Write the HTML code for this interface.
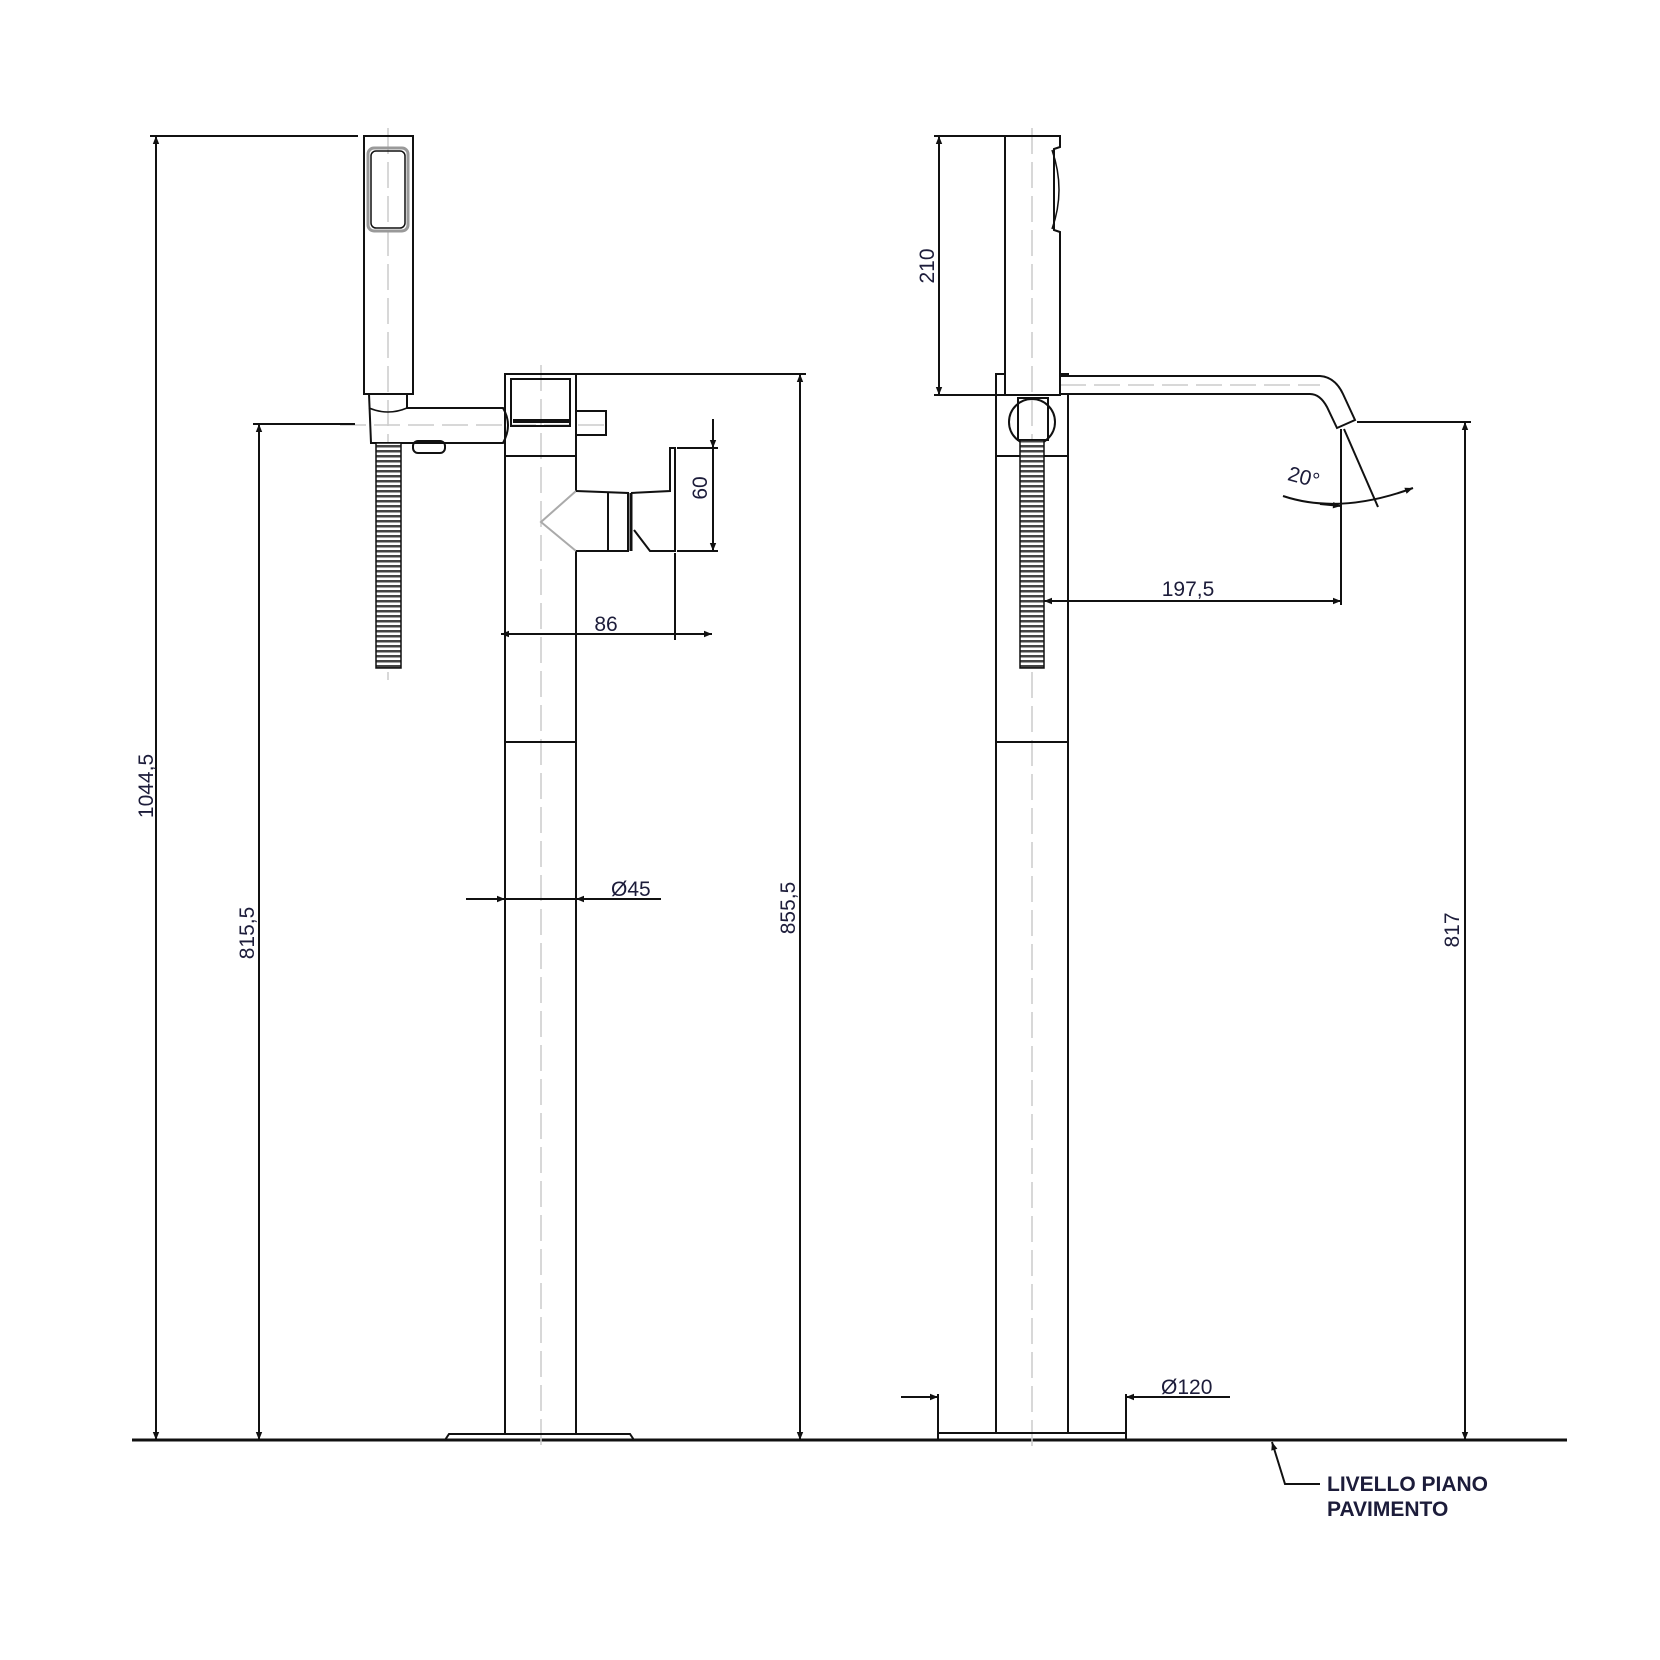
<!DOCTYPE html>
<html><head><meta charset="utf-8"><style>
html,body{margin:0;padding:0;background:#fff;}
svg{display:block;}
text{font-family:"Liberation Sans",sans-serif;fill:#1c1c3a;font-size:21px;}
</style></head><body>
<svg width="1660" height="1660" viewBox="0 0 1660 1660" xmlns="http://www.w3.org/2000/svg">
<defs>
<marker id="a" viewBox="0 0 10 10" refX="10" refY="5" markerWidth="14" markerHeight="8" orient="auto-start-reverse" markerUnits="userSpaceOnUse"><path d="M0,1 L10,5 L0,9 z" fill="#111"/></marker>
<pattern id="hose" width="6" height="5" patternUnits="userSpaceOnUse">
<rect width="6" height="5" fill="#fff"/><rect y="0" width="6" height="2.5" fill="#444"/>
</pattern>
</defs>
<g stroke="#111" stroke-width="2" fill="none">
<line x1="132" y1="1440" x2="1567" y2="1440" stroke-width="3"/>
<g stroke="#ccc" stroke-width="1.5" stroke-dasharray="26,8">
<line x1="388" y1="128" x2="388" y2="680"/>
<line x1="541" y1="365" x2="541" y2="1452"/>
<line x1="1032" y1="128" x2="1032" y2="1452"/>
<line x1="340" y1="425" x2="610" y2="425"/>
<line x1="1060" y1="385" x2="1320" y2="385"/>
</g>
<!-- LEFT VIEW -->
<rect x="364" y="136" width="49" height="258"/>
<rect x="368" y="148" width="40" height="83" rx="6" stroke="#999" stroke-width="3"/>
<rect x="371" y="151" width="34" height="77" rx="5" stroke-width="1.5"/>
<path d="M369,394 L407,394 L407,408 L503,408 Q513,425 503,443 L448,443"/>
<path d="M369,394 L371,443 L448,443"/>
<path d="M369,408 Q388,416 407,408" stroke-width="1.5"/>
<rect x="413" y="441" width="32" height="12" rx="5"/>
<rect x="376" y="443" width="25" height="225" fill="url(#hose)" stroke-width="1.5"/>
<rect x="505" y="374" width="71" height="82"/>
<rect x="511" y="379" width="59" height="47"/>
<line x1="513" y1="421" x2="569" y2="421" stroke-width="4"/>
<rect x="576" y="411" width="30" height="24"/>
<line x1="505" y1="456" x2="505" y2="1434"/>
<line x1="576" y1="456" x2="576" y2="491"/>
<line x1="576" y1="551" x2="576" y2="1434"/>
<line x1="505" y1="742" x2="576" y2="742"/>
<path d="M445,1440 L449,1434 L630,1434 L634,1440"/>
<path d="M576,491 L541,522 L576,551" stroke="#aaa"/>
<path d="M576,491 L628,493 L628,551 L576,551"/>
<line x1="608" y1="492" x2="608" y2="551"/>
<line x1="631" y1="493" x2="631" y2="551" stroke-width="3"/>
<path d="M631,493 L670,491 L670,448 L675,448 L675,551 L650,551 L634,530"/>
<line x1="150" y1="136" x2="358" y2="136"/>
<line x1="156" y1="136" x2="156" y2="1440" marker-start="url(#a)" marker-end="url(#a)"/>
<line x1="253" y1="424" x2="355" y2="424"/>
<line x1="259" y1="424" x2="259" y2="1440" marker-start="url(#a)" marker-end="url(#a)"/>
<line x1="577" y1="374" x2="806" y2="374"/>
<line x1="800" y1="374" x2="800" y2="1440" marker-start="url(#a)" marker-end="url(#a)"/>
<line x1="466" y1="899" x2="505" y2="899" marker-end="url(#a)"/>
<line x1="661" y1="899" x2="576" y2="899" marker-end="url(#a)"/>
<line x1="505" y1="899" x2="576" y2="899"/>
<line x1="677" y1="448" x2="718" y2="448"/>
<line x1="677" y1="551" x2="718" y2="551"/>
<line x1="713" y1="419" x2="713" y2="448" marker-end="url(#a)"/>
<line x1="713" y1="448" x2="713" y2="551" marker-end="url(#a)"/>
<line x1="675" y1="553" x2="675" y2="640"/>
<line x1="501" y1="634" x2="541" y2="634" marker-start="url(#a)"/>
<line x1="541" y1="634" x2="712" y2="634" marker-end="url(#a)"/>
<!-- RIGHT VIEW -->
<path d="M1005,136 L1060,136 L1060,147 L1054,149 L1054,230 L1060,232 L1060,395 L1005,395 Z"/>
<path d="M1052,150 Q1066,190 1052,229" stroke-width="1.5"/>
<path d="M996,1434 L996,374 L1005,374"/>
<path d="M1068,1434 L1068,394"/>
<path d="M1060,374 L1068,374 L1068,376"/>
<line x1="996" y1="456" x2="1068" y2="456"/>
<line x1="996" y1="742" x2="1068" y2="742"/>
<path d="M1060,376 L1320,376 Q1335,377 1343,394 L1355,420 L1337,428 L1327,407 Q1320,394 1310,394 L1060,394"/>
<circle cx="1032" cy="422" r="23"/>
<rect x="1018" y="398" width="30" height="42"/>
<rect x="1020" y="440" width="24" height="228" fill="url(#hose)" stroke-width="1.5"/>
<path d="M938,1440 L938,1433 L1126,1433 L1126,1440"/>
<line x1="934" y1="136" x2="1005" y2="136"/>
<line x1="934" y1="395" x2="1005" y2="395"/>
<line x1="939" y1="136" x2="939" y2="395" marker-start="url(#a)" marker-end="url(#a)"/>
<line x1="1357" y1="422" x2="1471" y2="422"/>
<line x1="1465" y1="422" x2="1465" y2="1440" marker-start="url(#a)" marker-end="url(#a)"/>
<line x1="1341" y1="429" x2="1341" y2="605"/>
<line x1="1044" y1="601" x2="1341" y2="601" marker-start="url(#a)" marker-end="url(#a)"/>
<line x1="1344" y1="429" x2="1378" y2="507"/>
<path d="M1283,496 Q1340,515 1413,488" marker-end="url(#a)"/>
<line x1="1320" y1="504" x2="1341" y2="506" marker-end="url(#a)"/>
<line x1="938" y1="1394" x2="938" y2="1433"/>
<line x1="1126" y1="1394" x2="1126" y2="1433"/>
<line x1="901" y1="1397" x2="938" y2="1397" marker-end="url(#a)"/>
<line x1="1230" y1="1397" x2="1126" y2="1397" marker-end="url(#a)"/>
<path d="M1320,1484 L1285,1484 L1272,1442" marker-end="url(#a)"/>
</g>
<text transform="translate(153,786) rotate(-90)" text-anchor="middle">1044,5</text>
<text transform="translate(254,933) rotate(-90)" text-anchor="middle">815,5</text>
<text transform="translate(795,908) rotate(-90)" text-anchor="middle">855,5</text>
<text transform="translate(707,488) rotate(-90)" text-anchor="middle">60</text>
<text x="606" y="631" text-anchor="middle">86</text>
<text x="611" y="896">Ø45</text>
<text transform="translate(934,266) rotate(-90)" text-anchor="middle">210</text>
<text x="1188" y="596" text-anchor="middle">197,5</text>
<text transform="translate(1302,484) rotate(15)" text-anchor="middle" font-size="19">20°</text>
<text transform="translate(1459,930) rotate(-90)" text-anchor="middle">817</text>
<text x="1161" y="1394">Ø120</text>
<text x="1327" y="1491" font-weight="bold" font-size="21">LIVELLO PIANO</text>
<text x="1327" y="1516" font-weight="bold" font-size="21">PAVIMENTO</text>
</svg>
</body></html>
